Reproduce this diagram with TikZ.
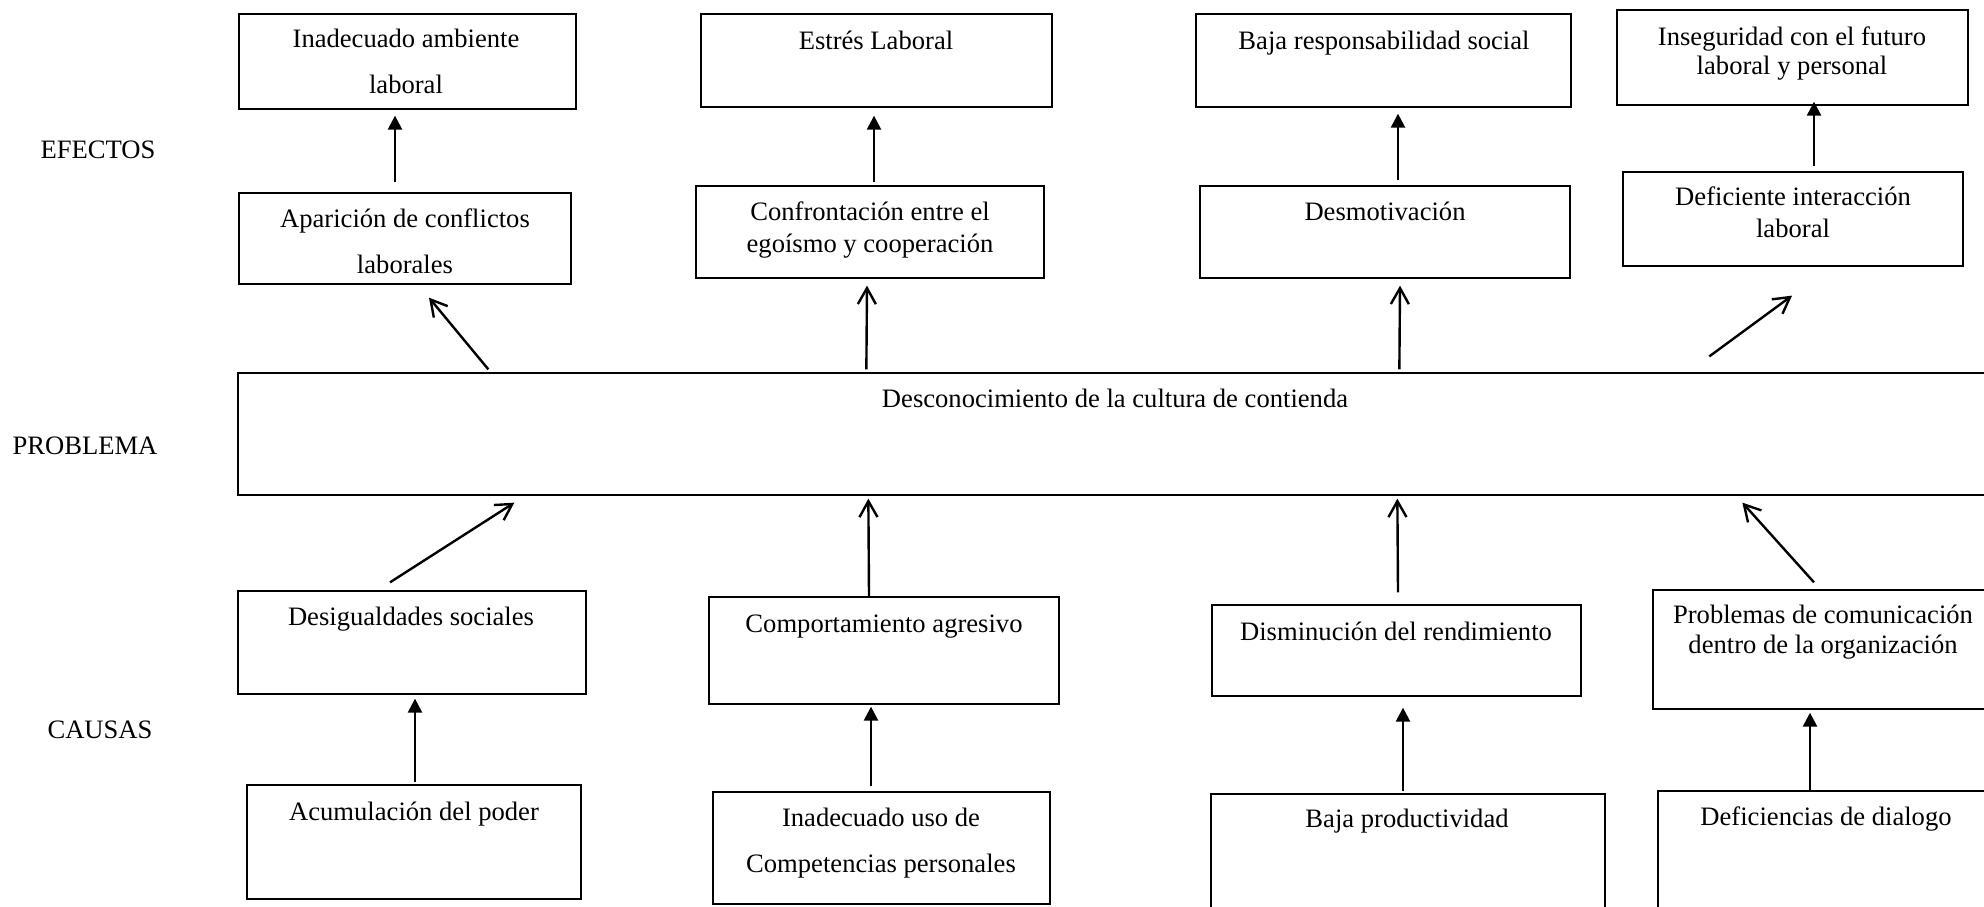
\documentclass[tikz,border=0pt]{standalone}
\usepackage{fontspec}
\setmainfont{Liberation Serif}
\usetikzlibrary{arrows.meta,calc,fit}
\begin{document}
\begin{tikzpicture}[x=0.5pt,y=-0.5pt,
  box/.style={draw=black, line width=0.65pt, inner sep=0pt, fit={#1}},
  txt/.style={anchor=base, inner sep=0pt, align=center,
    font=\fontsize{13.3pt}{15pt}\selectfont},
  txtwide/.style={anchor=base, inner sep=0pt, align=center,
    font=\fontsize{13.3pt}{22.8pt}\selectfont},
  solidarrow/.style={-{Triangle[length=7pt,width=7pt]}, line width=1.2pt},
  openarrow/.style={-{Straight Barb[length=8pt,width=9pt,line width=1.2pt]}, line width=1.2pt}]

\useasboundingbox (0,0) rectangle (1984,906);
\fill[white] (0,0) rectangle (1984,906);
\clip (0,0) rectangle (1984,906);

% row labels
\node[txt] (lefectos)  at (98,158)  {EFECTOS};
\node[txt] (lproblema) at (85,454)  {PROBLEMA};
\node[txt] (lcausas)   at (100,738) {CAUSAS};

% effects, upper row (multi-line texts are placed by their last baseline)
\node[box={(239,14) (576,109)}]   (e1) {};
\node[box={(701,14) (1052,107)}]  (e2) {};
\node[box={(1196,14) (1571,107)}] (e3) {};
\node[box={(1617,10) (1968,105)}] (e4) {};
\node[txtwide] (e1t) at (406,93)   {Inadecuado ambiente\\laboral};
\node[txt]     (e2t) at (876,49)   {Estrés Laboral};
\node[txt]     (e3t) at (1384,49)  {Baja responsabilidad social};
\node[txt, font=\fontsize{13.3pt}{14.5pt}\selectfont]
               (e4t) at (1792,74)  {Inseguridad con el futuro\\laboral y personal};

% effects, lower row
\node[box={(239,193) (571,284)}]   (m1) {};
\node[box={(696,186) (1044,278)}]  (m2) {};
\node[box={(1200,186) (1570,278)}] (m3) {};
\node[box={(1623,172) (1963,266)}] (m4) {};
\node[txtwide] (m1t) at (405,273)  {Aparición de conflictos\\laborales};
\node[txt, font=\fontsize{13.3pt}{16pt}\selectfont]
               (m2t) at (870,252)  {Confrontación entre el\\egoísmo y cooperación};
\node[txt]     (m3t) at (1385,220) {Desmotivación};
\node[txt, font=\fontsize{13.3pt}{16pt}\selectfont]
               (m4t) at (1793,237) {Deficiente interacción\\laboral};

% central problem
\node[box={(238,373) (1995,495)}] (pb) {};
\node[txt] (pbt) at (1115,407) {Desconocimiento de la cultura de contienda};

% causes, upper row
\node[box={(238,591) (586,694)}]   (c1) {};
\node[box={(709,597) (1059,704)}]  (c2) {};
\node[box={(1212,605) (1581,696)}] (c3) {};
\node[box={(1653,590) (1995,709)}] (c4) {};
\node[txt] (c1t) at (411,625)  {Desigualdades sociales};
\node[txt] (c2t) at (884,632)  {Comportamiento agresivo};
\node[txt] (c3t) at (1396,640) {Disminución del rendimiento};
\node[txt] (c4t) at (1823,653) {Problemas de comunicación\\dentro de la organización};

% causes, lower row
\node[box={(247,785) (581,899)}]   (r1) {};
\node[box={(713,792) (1050,904)}]  (r2) {};
\node[box={(1211,794) (1605,920)}] (r3) {};
\node[box={(1658,791) (1995,920)}] (r4) {};
\node[txt]     (r1t) at (414,820)  {Acumulación del poder};
\node[txtwide] (r2t) at (881,872)  {Inadecuado uso de\\Competencias personales};
\node[txt]     (r3t) at (1407,827) {Baja productividad};
\node[txt]     (r4t) at (1826,825) {Deficiencias de dialogo};

% effect chains
\draw[solidarrow] ($(m1.north)+(-10,-10)$) -- ($(e1.south)+(-12.5,6)$);
\draw[solidarrow] ($(m2.north)+(4,-3)$)    -- ($(e2.south)+(-2.5,8)$);
\draw[solidarrow] ($(m3.north)+(13,-5)$)   -- ($(e3.south)+(14.5,6)$);
\draw[solidarrow] ($(m4.north)+(21,-5)$)   -- ($(e4.south)+(21.5,-4)$);

% problem to effects
\draw[openarrow] ($(pb.north west)+(251,-3)$)   -- ($(m1.south)+(24,13)$);
\draw[openarrow] ($(pb.north west)+(629,-3)$)   -- ($(m2.south)+(-3,7)$);
\draw[openarrow] ($(pb.north west)+(1162,-3)$)  -- ($(m3.south)+(15,7)$);
\draw[openarrow] ($(pb.north west)+(1472,-16)$) -- ($(m4.south)+(-1,29)$);

% causes to problem
\draw[openarrow] ($(c1.north)+(-22,-8)$) -- ($(pb.south west)+(277,7)$);
\draw[openarrow] ($(c2.north)+(-15,0)$)  -- ($(pb.south west)+(631,3)$);
\draw[openarrow] ($(c3.north)+(1.5,-12)$) -- ($(pb.south west)+(1160,3)$);
\draw[openarrow] ($(c4.north)+(-10,-7)$) -- ($(pb.south west)+(1505,7)$);

% cause chains
\draw[solidarrow] ($(r1.north)+(1,-2)$)      -- ($(c1.south)+(3,4)$);
\draw[solidarrow] ($(r2.north)+(-10.5,-5)$)  -- ($(c2.south)+(-13,2)$);
\draw[solidarrow] ($(r3.north)+(-5,-2)$)     -- ($(c3.south)+(6.5,11)$);
\draw[solidarrow] ($(r4.north)+(-16.5,0)$)   -- ($(c4.south)+(-14,3)$);
\end{tikzpicture}
\end{document}
